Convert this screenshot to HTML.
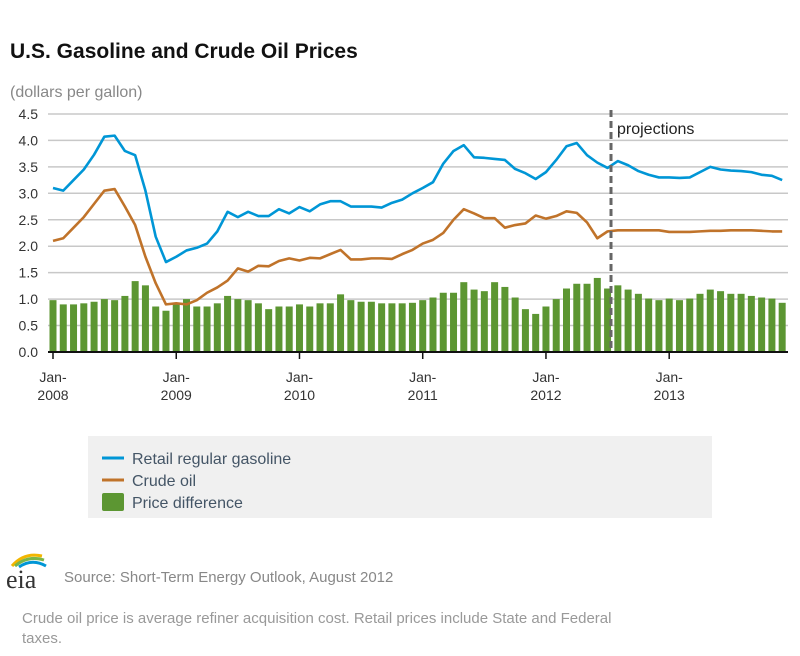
<!DOCTYPE html>
<html><head><meta charset="utf-8"><style>
body{margin:0;background:#fff;font-family:"Liberation Sans",sans-serif}
svg text{font-family:"Liberation Sans",sans-serif}
</style></head><body>
<svg id="chart" width="800" height="651" viewBox="0 0 800 651" xmlns="http://www.w3.org/2000/svg">
<text x="10" y="58" font-size="21" font-weight="bold" fill="#111">U.S. Gasoline and Crude Oil Prices</text>
<text x="10" y="97" font-size="16" fill="#888">(dollars per gallon)</text>
<g id="grid"></g>
<g id="yticks"></g>
<g id="bars"></g>
<g id="lines"></g>
<g id="xaxis"></g>
<line x1="611" y1="110" x2="611" y2="352" stroke="#666" stroke-width="3" stroke-dasharray="7,4"/>
<text x="617" y="134" font-size="16" fill="#222">projections</text>
<rect x="88" y="436" width="624" height="82" fill="#f0f0f0"/>
<g><line x1="102" y1="458" x2="124" y2="458" stroke="#0096d6" stroke-width="3"/><text x="132" y="464" font-size="16" fill="#445566">Retail regular gasoline</text></g>
<g><line x1="102" y1="480" x2="124" y2="480" stroke="#c0732a" stroke-width="3"/><text x="132" y="486" font-size="16" fill="#445566">Crude oil</text></g>
<g><rect x="102" y="493" width="22" height="18" rx="2" fill="#5c9632"/><text x="132" y="508" font-size="16" fill="#445566">Price difference</text></g>
<g>
<path d="M12 566 Q24 552 42 556" stroke="#f2b600" stroke-width="3" fill="none"/>
<path d="M15 566 Q28 555 44 560" stroke="#7ab648" stroke-width="3" fill="none"/>
<path d="M19 567 Q32 558 46 566" stroke="#0096d6" stroke-width="3" fill="none"/>
<text x="6" y="588" font-size="26" style="font-family:'Liberation Serif',serif" fill="#333">eia</text>
</g>
<text x="64" y="582" font-size="15" fill="#888">Source: Short-Term Energy Outlook, August 2012</text>
<text x="22" y="623" font-size="15" fill="#999">Crude oil price is average refiner acquisition cost. Retail prices include State and Federal</text>
<text x="22" y="643" font-size="15" fill="#999">taxes.</text>
</svg>
<script>
const gasoline=[3.10,3.05,3.25,3.45,3.73,4.07,4.09,3.80,3.72,3.05,2.18,1.70,
1.80,1.92,1.97,2.05,2.28,2.65,2.55,2.65,2.57,2.57,2.70,2.62,
2.74,2.66,2.79,2.85,2.85,2.75,2.75,2.75,2.73,2.82,2.88,3.00,
3.10,3.21,3.56,3.80,3.91,3.68,3.67,3.65,3.63,3.46,3.38,3.27,
3.40,3.63,3.89,3.95,3.72,3.58,3.48,3.61,3.53,3.42,3.35,3.30,
3.30,3.29,3.30,3.40,3.50,3.45,3.43,3.42,3.40,3.35,3.33,3.25];
const crude=[2.10,2.15,2.35,2.55,2.80,3.05,3.08,2.75,2.40,1.80,1.30,0.90,
0.92,0.90,0.98,1.12,1.22,1.35,1.58,1.52,1.63,1.62,1.72,1.77,
1.73,1.78,1.77,1.85,1.93,1.75,1.75,1.77,1.77,1.76,1.85,1.93,
2.05,2.12,2.25,2.50,2.70,2.62,2.53,2.53,2.35,2.40,2.43,2.58,
2.52,2.57,2.66,2.63,2.45,2.15,2.28,2.30,2.30,2.30,2.30,2.30,
2.27,2.27,2.27,2.28,2.29,2.29,2.30,2.30,2.30,2.29,2.28,2.28];
const difference=[0.98,0.90,0.90,0.92,0.95,1.00,0.98,1.06,1.34,1.26,0.86,0.78,
0.90,1.00,0.86,0.86,0.92,1.06,1.00,0.98,0.92,0.81,0.86,0.86,
0.90,0.86,0.92,0.92,1.09,0.98,0.95,0.95,0.92,0.92,0.92,0.93,
0.98,1.03,1.12,1.12,1.32,1.18,1.15,1.32,1.23,1.03,0.81,0.72,
0.86,1.00,1.20,1.29,1.29,1.40,1.20,1.26,1.18,1.10,1.01,0.98,
1.01,0.98,1.01,1.10,1.18,1.15,1.10,1.10,1.06,1.03,1.01,0.93];
const yTicks=["0.0","0.5","1.0","1.5","2.0","2.5","3.0","3.5","4.0","4.5"];
const xLabels=["2008","2009","2010","2011","2012","2013"];

const NS="http://www.w3.org/2000/svg";
const X0=53,DX=10.27,Y0=352,K=52.9;
const xs=i=>X0+i*DX, ys=v=>Y0-v*K;
function mk(t,a,p){const e=document.createElementNS(NS,t);for(const k in a)e.setAttribute(k,a[k]);p.appendChild(e);return e;}
const grid=document.getElementById('grid'),yt=document.getElementById('yticks');
yTicks.forEach((t,i)=>{const v=parseFloat(t);
 if(v>0){const l=mk('line',{x1:48,x2:788,y1:ys(v),y2:ys(v),stroke:'#c8c8c8','stroke-width':1.5},grid);
 
 }
 const tx=mk('text',{x:38,y:ys(v)+5,'font-size':14,'text-anchor':'end',fill:'#333'},yt);tx.textContent=t;
 
 
});
const bars=document.getElementById('bars');
difference.forEach((v,i)=>{const r=mk('rect',{x:xs(i)-3.5,y:ys(v),width:7,height:v*K,fill:'#5c9632'},bars);
 
 });
const lines=document.getElementById('lines');
[[gasoline,'#0096d6','gasoline-line'],[crude,'#c0732a','crude-oil-line']].forEach(([d,c,n])=>{
 const p=mk('polyline',{points:d.map((v,i)=>xs(i)+','+ys(v)).join(' '),fill:'none',stroke:c,'stroke-width':2.6,'stroke-linejoin':'round'},lines);
 
 });
const xa=document.getElementById('xaxis');
mk('line',{x1:48,x2:788,y1:Y0,y2:Y0,stroke:'#111','stroke-width':2},xa);
xLabels.forEach((y,i)=>{const x=xs(i*12);
 mk('line',{x1:x,x2:x,y1:Y0,y2:Y0+7,stroke:'#111','stroke-width':1.5},xa);
 const t1=mk('text',{x:x,y:382,'font-size':14,'text-anchor':'middle',fill:'#333'},xa);t1.textContent='Jan-';
 
 
 const t2=mk('text',{x:x,y:400,'font-size':14,'text-anchor':'middle',fill:'#333'},xa);t2.textContent=y;
 
 });
</script>
</body></html>
